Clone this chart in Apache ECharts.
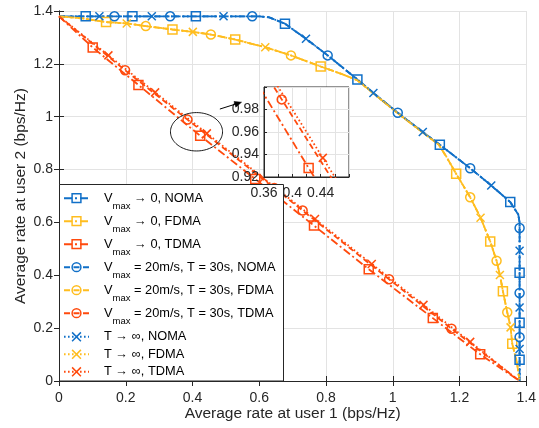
<!DOCTYPE html>
<html>
<head>
<meta charset="utf-8">
<script src="https://cdn.jsdelivr.net/npm/echarts@6/dist/echarts.min.js"></script>
<style>
  html, body { margin: 0; padding: 0; background: #fff; }
  #chart { width: 539px; height: 428px; }
</style>
</head>
<body>
<div id="chart"></div>
<script>
// ---- axes ----
const xTicks = [0, 0.2, 0.4, 0.6, 0.8, 1, 1.2, 1.4];
const yTicks = [0, 0.2, 0.4, 0.6, 0.8, 1, 1.2, 1.4];
const zoomXTicks = [0.36, 0.38, 0.40, 0.42, 0.44, 0.46, 0.48];
const zoomXLabels = ['0.36', '0.4', '0.44'];
const zoomYTicks = [0.92, 0.94, 0.96, 0.98, 1.0];
const zoomYLabels = ['0.92', '0.94', '0.96', '0.98'];

// ---- NOMA: common boundary + marker positions ----
const nomaShape = [[0, 1.38], [0.6, 1.38], [0.63, 1.376], [0.677, 1.352], [0.74, 1.295], [0.805, 1.232],
  [0.894, 1.141], [0.942, 1.09], [1.015, 1.015], [1.09, 0.942], [1.141, 0.894], [1.232, 0.805],
  [1.295, 0.74], [1.352, 0.677], [1.376, 0.63], [1.38, 0.6], [1.38, 0]];
const nomaV0Marks = [[0.08, 1.38], [0.22, 1.38], [0.41, 1.38], [0.677, 1.352], [0.894, 1.141],
  [1.141, 0.894], [1.352, 0.677], [1.38, 0.41], [1.38, 0.22], [1.38, 0.08]];
const noma20Marks = [[0.166, 1.38], [0.333, 1.38], [0.579, 1.38], [0.805, 1.232], [1.015, 1.015],
  [1.232, 0.805], [1.38, 0.579], [1.38, 0.333], [1.38, 0.166]];
const nomaInfMarks = [[0.121, 1.38], [0.278, 1.38], [0.493, 1.38], [0.74, 1.295], [0.942, 1.09],
  [1.09, 0.942], [1.295, 0.74], [1.38, 0.493], [1.38, 0.278], [1.38, 0.121]];

// ---- FDMA ----
const fdmaShape = [[0, 1.38], [0.07, 1.372], [0.141, 1.358], [0.203, 1.353], [0.26, 1.343], [0.34, 1.33],
  [0.401, 1.321], [0.455, 1.311], [0.528, 1.292], [0.618, 1.263], [0.695, 1.232], [0.784, 1.19],
  [0.85, 1.16], [0.894, 1.138], [0.95, 1.08], [1.015, 1.013], [1.08, 0.95], [1.138, 0.894],
  [1.16, 0.85], [1.19, 0.784], [1.232, 0.695], [1.263, 0.618], [1.292, 0.528], [1.311, 0.455],
  [1.321, 0.401], [1.33, 0.34], [1.343, 0.26], [1.353, 0.203], [1.358, 0.141], [1.372, 0.07], [1.38, 0]];
const fdmaV0Marks = [[0.141, 1.358], [0.34, 1.33], [0.528, 1.292], [0.784, 1.19],
  [1.19, 0.784], [1.292, 0.528], [1.33, 0.34], [1.358, 0.141]];
const fdma20Marks = [[0.26, 1.343], [0.455, 1.311], [0.695, 1.232], [1.232, 0.695], [1.311, 0.455], [1.343, 0.26]];
const fdmaInfMarks = [[0.203, 1.353], [0.401, 1.321], [0.618, 1.263], [1.263, 0.618], [1.321, 0.401], [1.353, 0.203]];

// ---- TDMA ----
const tdmaShape = [[0, 1.38], [1.38, 0]];
const tdmaV0Marks = [[0.101, 1.262], [0.238, 1.12], [0.423, 0.928], [0.588, 0.764],
  [0.764, 0.588], [0.928, 0.423], [1.12, 0.238], [1.262, 0.101]];
const tdma20Marks = [[0.198, 1.176], [0.385, 0.989], [0.645, 0.73], [0.73, 0.645], [0.989, 0.385], [1.176, 0.198]];
const tdmaInfMarks = [[0.148, 1.232], [0.288, 1.092], [0.443, 0.937], [0.613, 0.767],
  [0.767, 0.613], [0.937, 0.443], [1.092, 0.288], [1.232, 0.148]];

// ---- annotation (data coordinates) ----
const ellipseCenter = [0.412, 0.943];
const ellipseRadius = [0.078, 0.0726];
const arrowFrom = [0.482, 1.029];
const arrowTo = [0.547, 1.055];

const FONT = "'Liberation Sans', Arial, Helvetica, sans-serif";
const INK = '#262626';
const BLUE = '#1170c8', YELLOW = '#ffbd1f', RED = '#ff4a0d';
const DASHDOT = [8, 3, 2, 3], DASHED = [6, 3.5], DOTTED = [1.6, 2.4];
const SQUARE = 'rect', CIRCLE = 'circle', CROSS = 'path://M0,0L10,10M10,0L0,10';

const defs = [
  { name: 'V0 NOMA', label: '{v|V}{s|max}{v| → 0, NOMA}', color: BLUE, dash: DASHDOT, symbol: SQUARE, shape: nomaShape, marks: nomaV0Marks },
  { name: 'V0 FDMA', label: '{v|V}{s|max}{v| → 0, FDMA}', color: YELLOW, dash: DASHDOT, symbol: SQUARE, shape: fdmaShape, marks: fdmaV0Marks },
  { name: 'V0 TDMA', label: '{v|V}{s|max}{v| → 0, TDMA}', color: RED, dash: DASHDOT, symbol: SQUARE, shape: tdmaShape, marks: tdmaV0Marks, zoom: true },
  { name: 'V20 NOMA', label: '{v|V}{s|max}{v| = 20m/s, T = 30s, NOMA}', color: BLUE, dash: DASHED, symbol: CIRCLE, shape: nomaShape, marks: noma20Marks },
  { name: 'V20 FDMA', label: '{v|V}{s|max}{v| = 20m/s, T = 30s, FDMA}', color: YELLOW, dash: DASHED, symbol: CIRCLE, shape: fdmaShape, marks: fdma20Marks },
  { name: 'V20 TDMA', label: '{v|V}{s|max}{v| = 20m/s, T = 30s, TDMA}', color: RED, dash: DASHED, symbol: CIRCLE, shape: tdmaShape, marks: tdma20Marks, zoom: true },
  { name: 'Tinf NOMA', label: '{v|T → ∞, NOMA}', color: BLUE, dash: DOTTED, symbol: CROSS, shape: nomaShape, marks: nomaInfMarks },
  { name: 'Tinf FDMA', label: '{v|T → ∞, FDMA}', color: YELLOW, dash: DOTTED, symbol: CROSS, shape: fdmaShape, marks: fdmaInfMarks },
  { name: 'Tinf TDMA', label: '{v|T → ∞, TDMA}', color: RED, dash: DOTTED, symbol: CROSS, shape: tdmaShape, marks: tdmaInfMarks, zoom: true }
];

// merge curve points (no symbol) and marker points, ordered along the boundary
function buildData(shape, marks) {
  const pts = shape.map(p => ({ value: p, symbol: 'none' })).concat(marks.map(p => ({ value: p })));
  pts.sort((a, b) => (a.value[0] - a.value[1]) - (b.value[0] - b.value[1]));
  return pts;
}

function makeSeries(d, xi, yi, z) {
  return {
    type: 'line', name: d.name, xAxisIndex: xi, yAxisIndex: yi, z: z,
    data: buildData(d.shape, d.marks),
    symbol: d.symbol, symbolSize: d.symbol === CROSS ? 8 : 9, showAllSymbol: true,
    lineStyle: { color: d.color, width: 1.8, type: d.dash },
    itemStyle: { color: 'rgba(0,0,0,0)', borderColor: d.color, borderWidth: 1.5 },
    emphasis: { disabled: true }, silent: true, animation: false
  };
}

const series = defs.map(d => makeSeries(d, 0, 0, 2))
  .concat(defs.filter(d => d.zoom).map(d => makeSeries(d, 2, 2, 12)));

const mainAxisCommon = {
  type: 'value', min: 0, max: 1.4, interval: 0.2,
  axisLine: { show: true, lineStyle: { color: INK, width: 1 } },
  axisTick: { show: true, inside: true, length: 5, lineStyle: { color: INK } },
  splitLine: { show: false }
};

const labelMap = {};
defs.forEach(d => { labelMap[d.name] = d.label; });

const legendText = {
  fontFamily: FONT, fontSize: 12.8, color: '#000', padding: [0, 0, 0, 10],
  rich: {
    v: { fontFamily: FONT, fontSize: 12.8, color: '#000' },
    s: { fontFamily: FONT, fontSize: 9.5, padding: [16, 0, 0, 0], color: '#000' }
  }
};
const legendItems = ds => ds.map(d => ({ name: d.name,
  itemStyle: { color: 'rgba(0,0,0,0)', borderColor: d.color, borderWidth: 1.5 } }));
const legendCommon = {
  orient: 'vertical', left: 63, z: 4, padding: 0, itemWidth: 25, itemHeight: 11,
  selectedMode: false, formatter: name => labelMap[name], textStyle: legendText
};

const option = {
  animation: false,
  backgroundColor: '#fff',
  grid: [
    { left: 59, right: 12, top: 11, bottom: 47 },
    { left: 264, top: 87, width: 85, height: 90, show: true, backgroundColor: '#fff',
      borderColor: INK, borderWidth: 1, z: 10 }
  ],
  xAxis: [
    Object.assign({}, mainAxisCommon, {
      gridIndex: 0, position: 'bottom', min: xTicks[0], max: xTicks[xTicks.length - 1],
      name: 'Average rate at user 1 (bps/Hz)', nameLocation: 'middle', nameGap: 25, nameMoveOverlap: false,
      nameTextStyle: { fontFamily: FONT, fontSize: 15.5, color: INK },
      axisLabel: { fontFamily: FONT, fontSize: 14, color: INK, margin: 10,
        formatter: v => String(Math.round(v * 10) / 10) },
      splitLine: { show: true, lineStyle: { color: '#e3e3e3', width: 1 } }
    }),
    Object.assign({}, mainAxisCommon, { gridIndex: 0, position: 'top', axisLabel: { show: false } }),
    {
      type: 'value', gridIndex: 1, min: zoomXTicks[0], max: zoomXTicks[zoomXTicks.length - 1], interval: 0.02, z: 11,
      axisLine: { show: true, lineStyle: { color: INK } },
      axisTick: { show: true, inside: true, length: 3, lineStyle: { color: INK } },
      axisLabel: { fontFamily: FONT, fontSize: 14, color: INK, margin: 9,
        formatter: v => { const s = String(Math.round(v * 100) / 100); return zoomXLabels.indexOf(s) >= 0 ? s : ''; } },
      splitLine: { show: true, lineStyle: { color: '#e3e3e3' } }
    }
  ],
  yAxis: [
    Object.assign({}, mainAxisCommon, {
      gridIndex: 0, position: 'left', min: yTicks[0], max: yTicks[yTicks.length - 1],
      name: 'Average rate at user 2 (bps/Hz)', nameLocation: 'middle', nameGap: 30, nameMoveOverlap: false,
      nameTextStyle: { fontFamily: FONT, fontSize: 15.5, color: INK },
      axisLabel: { fontFamily: FONT, fontSize: 14, color: INK, margin: 6,
        formatter: v => String(Math.round(v * 10) / 10) },
      splitLine: { show: true, lineStyle: { color: '#e3e3e3', width: 1 } }
    }),
    Object.assign({}, mainAxisCommon, { gridIndex: 0, position: 'right', axisLabel: { show: false } }),
    {
      type: 'value', gridIndex: 1, min: zoomYTicks[0], max: zoomYTicks[zoomYTicks.length - 1], interval: 0.02, z: 11,
      axisLine: { show: true, lineStyle: { color: INK } },
      axisTick: { show: true, inside: true, length: 3, lineStyle: { color: INK } },
      axisLabel: { fontFamily: FONT, fontSize: 14, color: INK, margin: 5,
        formatter: v => { const s = (Math.round(v * 100) / 100).toFixed(2); return zoomYLabels.indexOf(s) >= 0 ? s : ''; } },
      splitLine: { show: true, lineStyle: { color: '#e3e3e3' } }
    }
  ],
  legend: [
    // rows with a subscripted label
    Object.assign({}, legendCommon, { top: 191.7, itemGap: 3.5, data: legendItems(defs.slice(0, 6)) }),
    // plain rows
    Object.assign({}, legendCommon, { top: 330.3, itemGap: 4.5, data: legendItems(defs.slice(6)) })
  ],
  series: series
};

const chart = echarts.init(document.getElementById('chart'), null, { renderer: 'canvas' });
chart.setOption(option);

// legend frame, plus the zoom marker: ellipse around the magnified region and an arrow to the inset
const toPx = p => chart.convertToPixel({ gridIndex: 0 }, p);
const c = toPx(ellipseCenter);
const rx = toPx([ellipseCenter[0] + ellipseRadius[0], ellipseCenter[1]])[0] - c[0];
const ry = c[1] - toPx([ellipseCenter[0], ellipseCenter[1] + ellipseRadius[1]])[1];
const ring = [];
for (let k = 0; k < 96; k++) {
  const t = (k / 96) * Math.PI * 2;
  ring.push([c[0] + rx * Math.cos(t), c[1] + ry * Math.sin(t)]);
}
const a0 = toPx(arrowFrom), a1 = toPx(arrowTo);
const dx = a1[0] - a0[0], dy = a1[1] - a0[1];
const len = Math.sqrt(dx * dx + dy * dy), ux = dx / len, uy = dy / len;
const headL = 7, headW = 3;
const base = [a1[0] - ux * headL, a1[1] - uy * headL];
const origin = toPx([0, 0]);
chart.setOption({
  graphic: [
    { type: 'rect', z: 3, silent: true,
      shape: { x: origin[0] + 0.5, y: 184.5, width: 224, height: origin[1] - 184.5 },
      style: { fill: '#fff', stroke: INK, lineWidth: 1 } },
    { type: 'polygon', z: 20, silent: true, shape: { points: ring },
      style: { fill: 'none', stroke: '#000', lineWidth: 0.9 } },
    { type: 'line', z: 20, silent: true, shape: { x1: a0[0], y1: a0[1], x2: base[0], y2: base[1] },
      style: { stroke: '#000', lineWidth: 1 } },
    { type: 'polygon', z: 20, silent: true,
      shape: { points: [a1, [base[0] - uy * headW, base[1] + ux * headW], [base[0] + uy * headW, base[1] - ux * headW]] },
      style: { fill: '#000', stroke: '#000', lineWidth: 0.5 } }
  ]
});
</script>
</body>
</html>
